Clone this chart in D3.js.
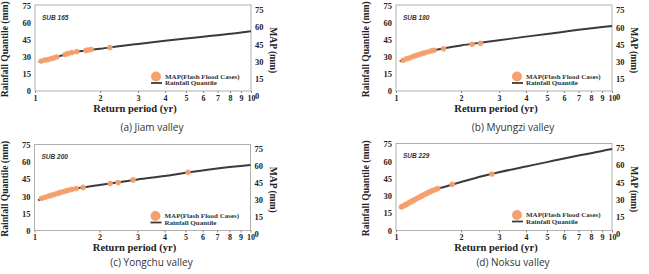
<!DOCTYPE html>
<html>
<head>
<meta charset="utf-8">
<script src="https://cdn.jsdelivr.net/npm/d3@7"></script>
<style>
  body { margin: 0; background: #fff; }
  svg { display: block; }
</style>
</head>
<body>
<div id="chart"></div>
<script>
var curveT = [1.04, 1.1, 1.2, 1.3, 1.4, 1.5, 1.7, 2, 2.5, 3, 4, 5, 6, 7, 8, 9, 10];

// rainfall quantile curves (mm)
var curveA = [25.3, 27.0, 28.8, 30.6, 32.2, 33.8, 35.4, 37.0, 39.5, 41.3, 44.0, 46.0, 47.6, 49.0, 50.2, 51.3, 52.5];
var curveB = [26.0, 27.8, 30.2, 32.4, 34.2, 35.8, 37.8, 40.0, 42.5, 44.5, 47.7, 50.0, 52.0, 53.7, 55.0, 56.1, 57.0];
var curveC = [26.5, 28.8, 31.0, 33.0, 34.8, 36.2, 38.0, 40.0, 42.6, 44.8, 47.8, 50.6, 52.6, 54.3, 55.6, 56.6, 57.4];
var curveD = [19.5, 22.0, 26.0, 29.5, 32.5, 35.2, 38.2, 42.0, 47.0, 50.5, 55.5, 59.3, 62.5, 65.0, 67.0, 69.0, 70.6];

// MAP of flash flood cases: return period and value (mm)
var dotsAT = [1.07, 1.11, 1.15, 1.19, 1.22, 1.26, 1.38, 1.42, 1.48, 1.56, 1.72, 1.76, 1.82, 2.22];
var dotsAV = [26.3, 27.2, 27.6, 28.5, 29.0, 29.8, 32.0, 32.9, 33.8, 34.6, 35.5, 36.0, 36.4, 38.2];

var dotsBT = [1.08, 1.12, 1.15, 1.19, 1.23, 1.27, 1.31, 1.35, 1.40, 1.46, 1.50, 1.66, 2.25, 2.46];
var dotsBV = [27.0, 28.2, 29.0, 30.0, 31.0, 31.8, 32.6, 33.4, 34.2, 35.2, 35.8, 37.1, 41.0, 41.9];

var dotsCT = [1.08, 1.12, 1.155, 1.19, 1.23, 1.27, 1.31, 1.355, 1.40, 1.44, 1.49, 1.56, 1.68, 2.24, 2.44, 2.86, 5.14];
var dotsCV = [28.3, 29.2, 30.0, 30.8, 31.6, 32.4, 33.2, 34.0, 34.8, 35.5, 36.1, 36.8, 37.8, 41.2, 42.1, 44.4, 51.0];

var dotsDT = [1.06, 1.08, 1.10, 1.12, 1.14, 1.16, 1.18, 1.20, 1.22, 1.25, 1.28, 1.31, 1.34, 1.37, 1.40, 1.44, 1.48, 1.52, 1.56, 1.82, 2.78];
var dotsDV = [20.5, 21.2, 22.0, 22.8, 23.6, 24.4, 25.2, 26.0, 26.7, 27.8, 28.8, 29.8, 30.8, 31.7, 32.6, 33.7, 34.7, 35.6, 36.4, 40.0, 49.0];

var xTicks = [1, 2, 3, 4, 5, 6, 7, 8, 9, 10];
var yTicks = [0, 15, 30, 45, 60, 75];

var subNames = ["SUB 165", "SUB 180", "SUB 200", "SUB 229"];
var captions = ["(a) Jiam valley", "(b) Myungzi valley", "(c) Yongchu valley", "(d) Noksu valley"];

var W = 649, H = 274;
var serif = "'Liberation Serif', 'Times New Roman', serif";
var dotColor = "#f5a06e";
var lineColor = "#3a3a3a";

var svg = d3.select("#chart").append("svg")
  .attr("width", W)
  .attr("height", H);

// panel frames (left, top, bottom of box; right-axis range is offset in original)
var panels = [
  {x0: 35, top: 5.5, bottom: 91, rTop: 10, rBot: 96, curve: curveA, dt: dotsAT, dv: dotsAV, capY: 127},
  {x0: 396, top: 5.5, bottom: 91, rTop: 10, rBot: 96.5, curve: curveB, dt: dotsBT, dv: dotsBV, capY: 127},
  {x0: 34.5, top: 145, bottom: 230.5, rTop: 148.7, rBot: 233.7, curve: curveC, dt: dotsCT, dv: dotsCV, capY: 262},
  {x0: 396, top: 144, bottom: 230.5, rTop: 148, rBot: 233.7, curve: curveD, dt: dotsDT, dv: dotsDV, capY: 262}
];

panels.forEach(function(p, i) {
  var w = 216;
  var g = svg.append("g");

  var x = d3.scaleLog().domain([1, 10]).range([p.x0, p.x0 + w]);
  var y = d3.scaleLinear().domain([0, 75]).range([p.bottom, p.top]);
  var yR = d3.scaleLinear().domain([0, 75]).range([p.rBot, p.rTop]);

  // frame
  g.append("rect")
    .attr("x", p.x0).attr("y", p.top - 0.5)
    .attr("width", w).attr("height", p.bottom - p.top + 0.5)
    .attr("fill", "none")
    .attr("stroke", "#b0b0b0")
    .attr("stroke-width", 1);

  // bottom axis
  var xAxis = g.append("g")
    .attr("transform", "translate(0," + p.bottom + ")")
    .call(d3.axisBottom(x).tickValues(xTicks).tickFormat(d3.format("d")).tickSize(2).tickPadding(2));
  xAxis.select(".domain").remove();
  xAxis.selectAll("line").attr("stroke", "#888");
  xAxis.selectAll("text")
    .style("font-family", serif).style("font-weight", "bold")
    .style("font-size", "8px").attr("fill", "#222");

  // left axis
  var yAxis = g.append("g")
    .attr("transform", "translate(" + p.x0 + ",0)")
    .call(d3.axisLeft(y).tickValues(yTicks).tickSize(0).tickPadding(4));
  yAxis.select(".domain").remove();
  yAxis.selectAll("text")
    .style("font-family", serif).style("font-weight", "bold")
    .style("font-size", "8.5px").attr("fill", "#222");

  // right axis
  var rAxis = g.append("g")
    .attr("transform", "translate(" + (p.x0 + w) + ",0)")
    .call(d3.axisRight(yR).tickValues(yTicks).tickSize(0).tickPadding(4));
  rAxis.select(".domain").remove();
  rAxis.selectAll("text")
    .style("font-family", serif).style("font-weight", "bold")
    .style("font-size", "8.5px").attr("fill", "#222");

  // quantile curve
  var line = d3.line()
    .x(function(d, k) { return x(curveT[k]); })
    .y(function(d) { return y(d); })
    .curve(d3.curveMonotoneX);
  g.append("path")
    .datum(p.curve)
    .attr("d", line)
    .attr("fill", "none")
    .attr("stroke", lineColor)
    .attr("stroke-width", 2);

  // flash flood MAP points
  g.selectAll("circle.pt")
    .data(p.dt)
    .enter()
    .append("circle")
      .attr("class", "pt")
      .attr("cx", function(d) { return x(d); })
      .attr("cy", function(d, k) { return y(p.dv[k]); })
      .attr("r", 2.8)
      .attr("fill", dotColor)
      .attr("opacity", 0.95);

  // sub basin label
  g.append("text")
    .attr("x", p.x0 + 7)
    .attr("y", p.top + 14)
    .style("font-family", "'Liberation Sans', Arial, sans-serif")
    .style("font-weight", "bold").style("font-style", "italic")
    .style("font-size", "6.5px")
    .attr("fill", "#333")
    .text(subNames[i]);

  // legend
  var lx = p.x0 + 121, ly = p.top + 71;
  g.append("circle").attr("cx", lx).attr("cy", ly).attr("r", 5).attr("fill", dotColor);
  g.append("line")
    .attr("x1", lx - 5).attr("x2", lx + 6)
    .attr("y1", ly + 6.5).attr("y2", ly + 6.5)
    .attr("stroke", lineColor).attr("stroke-width", 1.8);
  g.append("text")
    .attr("x", lx + 9).attr("y", ly + 2.2)
    .style("font-family", serif).style("font-weight", "bold").style("font-size", "7px")
    .attr("fill", "#333")
    .text("MAP(Flash Flood Cases)");
  g.append("text")
    .attr("x", lx + 9).attr("y", ly + 8.9)
    .style("font-family", serif).style("font-weight", "bold").style("font-size", "7px")
    .attr("fill", "#333")
    .text("Rainfall Quantile");

  // axis titles
  var midY = (p.top + p.bottom) / 2;
  g.append("text")
    .attr("transform", "translate(" + (p.x0 - 27) + "," + (midY + 1) + ")rotate(-90)")
    .attr("text-anchor", "middle")
    .style("font-family", serif).style("font-weight", "bold").style("font-size", "9.6px")
    .attr("fill", "#222")
    .text("Rainfall Quantile (mm)");
  g.append("text")
    .attr("transform", "translate(" + (p.x0 + w + 19) + "," + (midY + 2) + ")rotate(90)")
    .attr("text-anchor", "middle")
    .style("font-family", serif).style("font-weight", "bold").style("font-size", "9.6px")
    .attr("fill", "#222")
    .text("MAP (mm)");
  g.append("text")
    .attr("x", p.x0 + 100)
    .attr("y", p.bottom + 20.5)
    .attr("text-anchor", "middle")
    .style("font-family", serif).style("font-weight", "bold").style("font-size", "10.5px")
    .attr("fill", "#222")
    .text("Return period (yr)");

  // caption
  g.append("text")
    .attr("x", p.x0 + 117)
    .attr("y", p.capY + 4)
    .attr("text-anchor", "middle")
    .style("font-family", "'Open Sans', 'Noto Sans', sans-serif")
    .style("font-size", "10px")
    .attr("fill", "#333")
    .text(captions[i]);
});
</script>
</body>
</html>
